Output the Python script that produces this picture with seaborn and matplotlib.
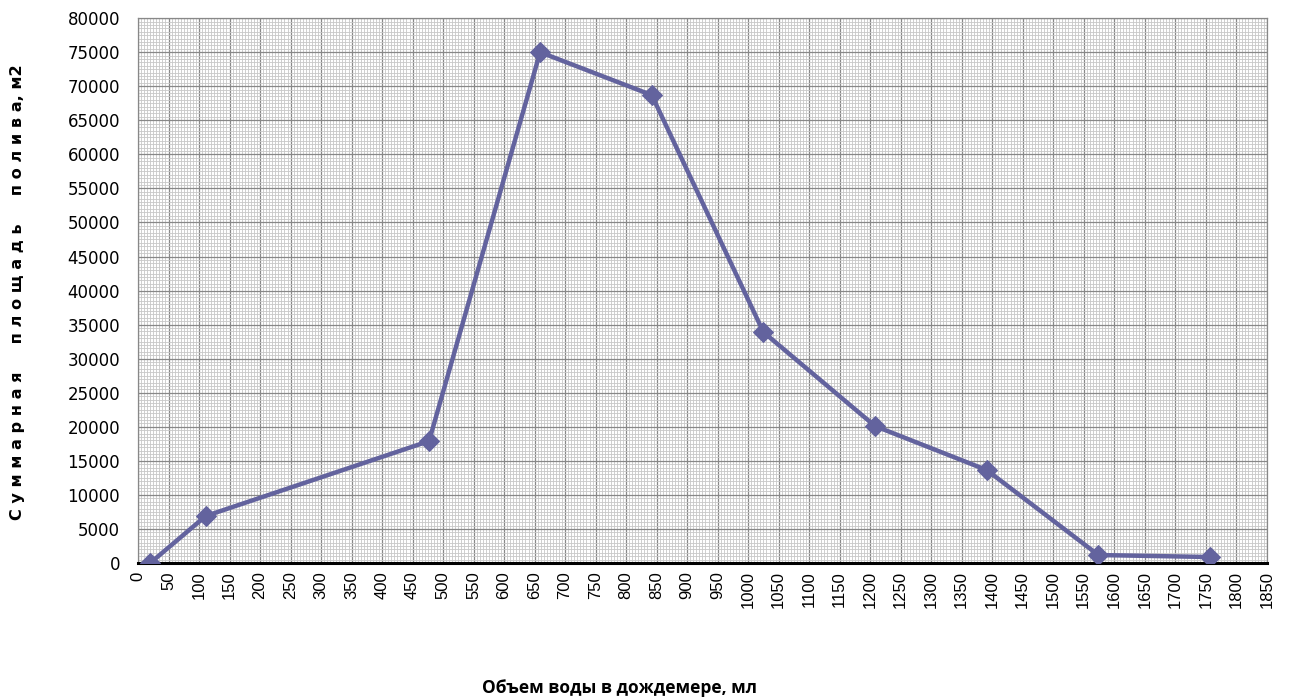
import numpy as np
import pandas as pd
import matplotlib
matplotlib.use("Agg")
import matplotlib.pyplot as plt
from matplotlib.ticker import MultipleLocator
import seaborn as sns

# Rain gauge water volume (ml) and total irrigated area (m2)
volume_ml = [20, 111, 477, 659, 842, 1025, 1208, 1391, 1574, 1757]
area_m2 = [0, 6900, 17900, 75000, 68700, 33900, 20100, 13650, 1170, 880]

x_label = "Объем воды в дождемере, мл"
y_words = ["Суммарная", "площадь", "полива"]
y_unit = ", м2"

df = pd.DataFrame({"volume": volume_ml, "area": area_m2})

sns.set_theme(style="white")
plt.rcParams["font.family"] = ["DejaVu Sans"]

fig = plt.figure(figsize=(12.9, 6.98), dpi=100)
ax = fig.add_axes([0.107, 0.1934, 0.875, 0.7806])

line_color = "#63639E"
sns.lineplot(data=df, x="volume", y="area", ax=ax, color=line_color,
             linewidth=3.2, marker="D", markersize=10,
             markeredgecolor=line_color, markerfacecolor=line_color, zorder=5)

ax.set_xlim(0, 1850)
ax.set_ylim(0, 80000)
ax.xaxis.set_major_locator(MultipleLocator(50))
ax.xaxis.set_minor_locator(MultipleLocator(5))
ax.yaxis.set_major_locator(MultipleLocator(5000))
ax.yaxis.set_minor_locator(MultipleLocator(500))

ax.grid(which="minor", color="#C8C8C8", linewidth=0.6)
ax.grid(which="major", color="#888888", linewidth=0.9)
ax.set_axisbelow(True)

for side in ("top", "right", "left"):
    ax.spines[side].set_color("#888888")
    ax.spines[side].set_linewidth(0.9)
ax.spines["bottom"].set_color("black")
ax.spines["bottom"].set_linewidth(2.2)

ax.tick_params(axis="x", which="major", length=0, pad=6)
ax.tick_params(axis="y", which="major", length=0, pad=13)
ax.tick_params(which="minor", length=0)
ax.set_xticklabels([str(int(v)) for v in ax.get_xticks()], rotation=90,
                   fontsize=12, family="Liberation Sans", color="black")
ax.set_yticklabels([str(int(v)) for v in ax.get_yticks()],
                   fontsize=12, family="DejaVu Sans", color="black")

# widely spaced bold axis title on the left
y_text = "     ".join(" ".join(w) for w in y_words) + y_unit
ax.set_ylabel("")
fig.text(18 / 1290, 1 - 292 / 698, y_text, rotation=90, ha="center", va="center",
         fontsize=11.6, fontweight="bold", family="DejaVu Sans", color="black")

ax.set_xlabel("")
fig.text(620 / 1290, 1 - 688 / 698, x_label, ha="center", va="center",
         fontsize=12.5, fontweight="bold", family="Open Sans", color="black")

fig.savefig("out.png", dpi=100)
